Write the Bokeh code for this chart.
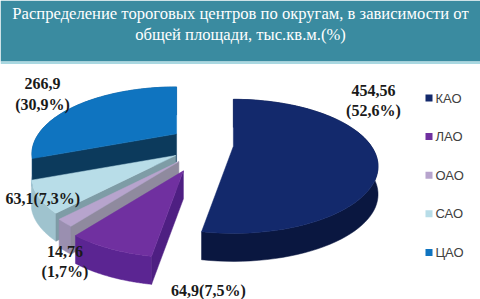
import numpy as np
from bokeh.plotting import figure
from bokeh.models import Range1d
from bokeh.embed import file_html
from bokeh.resources import INLINE
from bokeh.core.properties import value

# ---- data ----
districts = ["КАО", "ЛАО", "ОАО", "САО", "ЦАО"]
areas = [454.56, 64.9, 14.76, 63.1, 266.9]          # тыс. кв. м
shares = [52.6, 7.5, 1.7, 7.3, 30.9]                # %
title_lines = ["Распределение тороговых центров по округам, в зависимости от",
               "общей площади, тыс.кв.м.(%)"]

# ---- style / layout ----
top_colors = ["#13296c", "#7030a0", "#b7a4cd", "#b8dde8", "#0f74c0"]
cut_colors = ["#0b1a48", "#4e1f82", "#8f8a9e", "#7e9ca6", "#0c3a5c"]
wall_colors = ["#0a1740", "#5b2592", "#9a8fb0", "#9fc3ce", "#0a4f86"]
explode = [33, 44, 34, 30, 29]          # px along mid angle
label_two_lines = [True, False, True, False, True]
label_offsets = [(140, -46), (25, 120), (-114, 100), (-133, 43), (-134, -40)]
CX, CY = 200.0, 144.0
RX, RY, K, DEPTH, SEXP = 138.0, 61.0, 0.3, 28.0, 0.65

W, H = 480, 299
p = figure(width=W, height=H, x_range=Range1d(0, W), y_range=Range1d(H, 0),
           output_backend="svg", toolbar_location=None, min_border=0)
p.axis.visible = False
p.grid.visible = False
p.outline_line_color = None
p.background_fill_color = "white"
p.border_fill_color = "white"

# header band
p.quad(left=[0], right=[W], top=[0], bottom=[61], fill_color="#3a8ba0", line_color=None)
p.quad(left=[0], right=[W], top=[61], bottom=[63.5], fill_color="#a9d8e1", line_color=None)
p.text(x=[W / 2] * 2, y=[13, 34], text=title_lines, text_color="white",
       text_font=value("Liberation Serif"), text_font_size="16.6px",
       text_align="center", text_baseline="middle")


def rel(t):
    d = 1 + K * np.cos(t)
    return RX * np.sin(t) / d, -RY * np.cos(t) / d


vals = np.array(areas, dtype=float)
fr = vals / vals.sum()
ends = np.cumsum(fr) * 2 * np.pi
starts = ends - fr * 2 * np.pi
mids = (starts + ends) / 2
apex_x = CX + np.array(explode) * np.sin(mids)
apex_y = CY - SEXP * np.array(explode) * np.cos(mids)


def area2(xs, ys):
    return sum(xs[i] * ys[(i + 1) % len(xs)] - xs[(i + 1) % len(xs)] * ys[i] for i in range(len(xs)))


order = np.argsort(apex_y)
for i in order:
    ax, ay = apex_x[i], apex_y[i]
    t = np.linspace(starts[i], ends[i], 80)
    dx, dy = rel(t)
    arc_x, arc_y = ax + dx, ay + dy
    # outer wall
    p.patch(list(arc_x) + list(arc_x[::-1]), list(arc_y) + list(arc_y[::-1] + DEPTH),
            fill_color=wall_colors[i], line_color=wall_colors[i], line_width=0.5)
    # radial cut faces
    for j, sign in ((0, -1), (-1, 1)):
        fx = [ax, arc_x[j], arc_x[j], ax]
        fy = [ay, arc_y[j], arc_y[j] + DEPTH, ay + DEPTH]
        if sign * area2(fx, fy) > 0:
            p.patch(fx, fy, fill_color=cut_colors[i], line_color=cut_colors[i], line_width=0.5)
    # top face
    p.patch([ax] + list(arc_x), [ay] + list(arc_y), fill_color=top_colors[i],
            line_color=top_colors[i], line_width=0.5)


def fmt(v):
    return f"{v}".replace(".", ",")


lab_text = []
for i in range(len(areas)):
    sep = "\n" if label_two_lines[i] else ""
    lab_text.append(f"{fmt(areas[i])}{sep}({fmt(shares[i])}%)")
lab_x = [apex_x[i] + label_offsets[i][0] for i in range(len(areas))]
lab_y = [apex_y[i] + label_offsets[i][1] for i in range(len(areas))]
p.text(x=lab_x, y=lab_y, text=lab_text, text_color="#1a1a1a",
       text_font=value("Liberation Serif"), text_font_size="16px", text_font_style="bold",
       text_align="center", text_baseline="middle", text_line_height=1.2)

# legend
leg_y = [97.5 + 38.6 * i for i in range(len(districts))]
p.scatter(x=[428.5] * len(districts), y=leg_y, marker="square", size=7,
          fill_color=top_colors, line_color=None)
p.text(x=[435] * len(districts), y=leg_y, text=districts, text_color="#404040",
       text_font=value("Liberation Sans"), text_font_size="13px",
       text_align="left", text_baseline="middle")

open("out.html", "w").write(file_html(p, INLINE))
